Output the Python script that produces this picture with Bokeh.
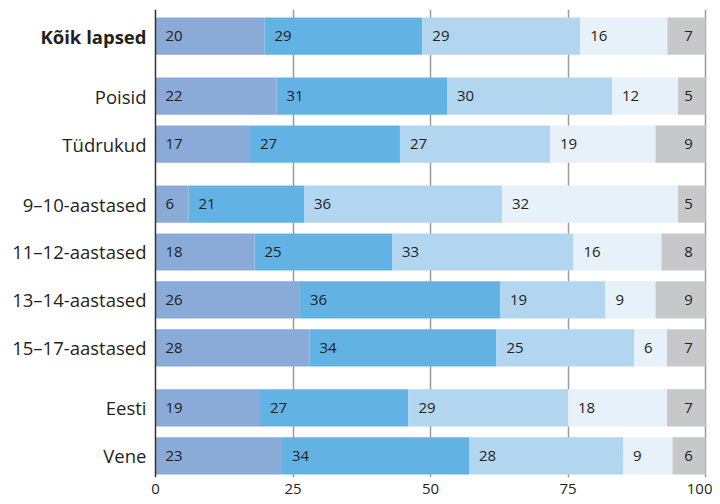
from bokeh.plotting import figure
from bokeh.models import ColumnDataSource, Range1d, FixedTicker, Span
from bokeh.core.properties import value
from bokeh.embed import file_html
from bokeh.resources import INLINE

categories = ["Kõik lapsed", "Poisid", "Tüdrukud", "9–10-aastased", "11–12-aastased",
              "13–14-aastased", "15–17-aastased", "Eesti", "Vene"]
group_sizes = [1, 2, 4, 2]
s1 = [20, 22, 17, 6, 18, 26, 28, 19, 23]
s2 = [29, 31, 27, 21, 25, 36, 34, 27, 34]
s3 = [29, 30, 27, 36, 33, 19, 25, 29, 28]
s4 = [16, 12, 19, 32, 16, 9, 6, 18, 9]
s5 = [7, 5, 9, 5, 8, 9, 7, 7, 6]
x_ticks = [0, 25, 50, 75, 100]

series = [s1, s2, s3, s4, s5]
colors = ["#8aaad8", "#62b3e3", "#b3d6f0", "#e6f1fa", "#c7c8ca"]
FONT = "Open Sans"
TXT = "#231f20"

# row positions with a small gap between groups
gap = 0.25
ypos = []
yy = 0.0
for n in group_sizes:
    for _ in range(n):
        ypos.append(yy)
        yy += 1
    yy += gap

# shares normalised so each row spans 100 %
totals = [sum(v) for v in zip(*series)]
data = {"y": ypos, "cat": categories}
keys = []
for i, s in enumerate(series):
    k = f"s{i+1}"
    keys.append(k)
    data[k] = [v / t * 100 for v, t in zip(s, totals)]
source = ColumnDataSource(data)

p = figure(width=712, height=496, output_backend="svg", toolbar_location=None,
           x_range=Range1d(-28.18, 101.27), y_range=Range1d(9.2, -0.554),
           min_border_left=0, min_border_right=0, min_border_top=9, min_border_bottom=0)
p.outline_line_color = None
p.background_fill_color = "white"

p.hbar_stack(keys, y="y", height=0.776, fill_color=colors, line_color=None, source=source)

# value labels
lx, ly, lt = [], [], []
ex, ey, et = [], [], []
for r in range(len(categories)):
    cum = 0.0
    for i, k in enumerate(keys):
        if i < len(keys) - 1:
            lx.append(cum); ly.append(ypos[r]); lt.append(str(series[i][r]))
        else:
            ex.append(100); ey.append(ypos[r]); et.append(str(series[i][r]))
        cum += data[k][r]
p.text(x=lx, y=ly, text=lt, x_offset=10, text_align="left", text_baseline="middle",
       text_font=value(FONT), text_font_size="15px", text_color=TXT)
p.text(x=ex, y=ey, text=et, x_offset=-17, text_align="center", text_baseline="middle",
       text_font=value(FONT), text_font_size="15px", text_color=TXT)

# category labels
p.text(x=[0], y=ypos[:1], text=categories[:1], x_offset=-9, text_align="right",
       text_baseline="middle", text_font=value(FONT), text_font_size="18.5px",
       text_font_style="bold", text_color=TXT)
p.text(x=[0] * (len(categories) - 1), y=ypos[1:], text=categories[1:], x_offset=-9,
       text_align="right", text_baseline="middle", text_font=value(FONT),
       text_font_size="18.5px", text_color=TXT)

# zero line
p.add_layout(Span(location=0, dimension="height", line_color="#333333", line_width=1.5))

# axes
p.yaxis.visible = False

p.xaxis.ticker = FixedTicker(ticks=x_ticks)
p.xaxis.axis_line_color = None
p.xaxis.major_tick_line_color = None
p.xaxis.minor_tick_line_color = None
p.xaxis.major_label_standoff = 0
p.xaxis.major_label_text_font = FONT
p.xaxis.major_label_text_font_size = "15px"
p.xaxis.major_label_text_color = TXT

p.xgrid.ticker = FixedTicker(ticks=x_ticks[1:])
p.xgrid.grid_line_color = "#9a9a9a"
p.xgrid.grid_line_width = 1.5
p.ygrid.grid_line_color = None

open("out.html", "w").write(file_html(p, INLINE))
